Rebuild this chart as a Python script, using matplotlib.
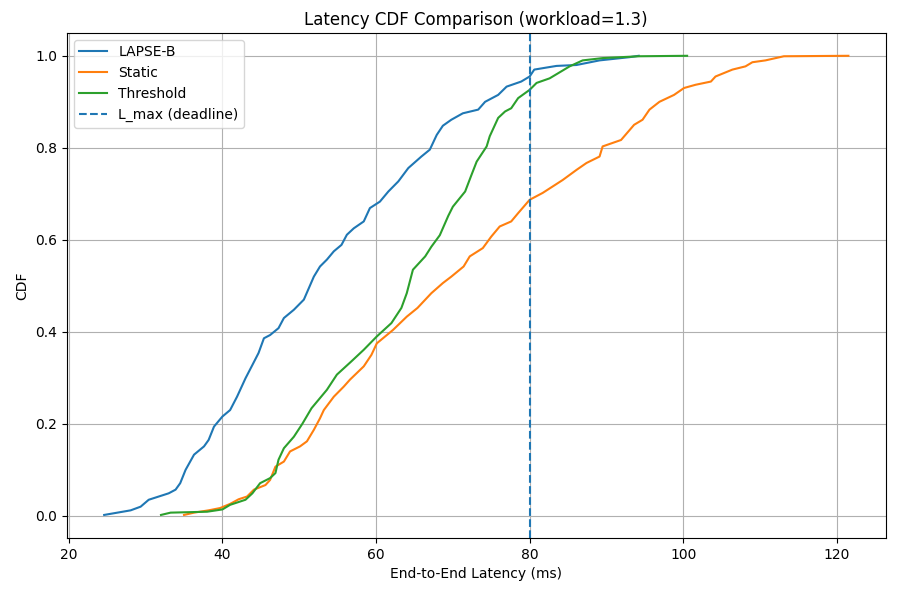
import matplotlib
matplotlib.use("Agg")
import matplotlib.pyplot as plt

# CDF curves (latency ms, cumulative fraction)
lapse_x = [24.6, 28.05, 29.35, 30.4, 33.0, 33.9, 34.5, 35.2, 36.3, 37.6, 38.2, 38.9,
           40.0, 41.0, 41.9, 43.0, 43.9, 44.7, 45.4, 46.2, 47.3, 48.0, 49.3, 50.6,
           51.9, 52.7, 53.6, 54.5, 55.5, 56.2, 57.1, 58.4, 59.2, 60.5, 61.6, 62.9,
           64.2, 65.9, 67.0, 67.9, 68.7, 69.8, 71.3, 73.3, 74.2, 75.9, 77.0, 78.9,
           80.0, 80.6, 82.4, 83.5, 86.1, 89.1, 93.0, 94.2]
lapse_y = [0.002, 0.012, 0.020, 0.035, 0.049, 0.057, 0.071, 0.10, 0.133, 0.151, 0.165, 0.194,
           0.216, 0.230, 0.259, 0.299, 0.328, 0.354, 0.386, 0.393, 0.408, 0.43, 0.448, 0.47,
           0.52, 0.542, 0.557, 0.575, 0.589, 0.611, 0.625, 0.64, 0.669, 0.683, 0.705, 0.727,
           0.756, 0.781, 0.796, 0.828, 0.848, 0.861, 0.875, 0.883, 0.90, 0.915, 0.933, 0.944,
           0.955, 0.97, 0.975, 0.978, 0.98, 0.99, 0.997, 1.0]

static_x = [35.0, 36.3, 38.2, 39.7, 41.0, 42.1, 43.2, 44.1, 45.6, 46.2, 46.9, 48.0,
            48.8, 50.1, 51.0, 51.9, 52.7, 53.2, 54.5, 55.8, 56.6, 58.4, 59.4, 60.1,
            62.2, 64.0, 65.4, 67.2, 68.7, 69.8, 71.4, 72.2, 73.9, 75.0, 76.1, 77.6,
            78.5, 80.0, 81.7, 83.0, 84.3, 86.1, 87.4, 89.1, 89.5, 91.9, 93.6, 94.7,
            95.6, 96.9, 98.8, 100.1, 101.6, 103.6, 104.2, 106.4, 108.1, 109.0, 110.7,
            113.1, 121.5]
static_y = [0.002, 0.007, 0.012, 0.017, 0.026, 0.036, 0.042, 0.057, 0.067, 0.078, 0.107, 0.118,
            0.14, 0.151, 0.162, 0.187, 0.212, 0.23, 0.259, 0.281, 0.296, 0.325, 0.35, 0.375,
            0.404, 0.433, 0.452, 0.484, 0.506, 0.52, 0.542, 0.564, 0.582, 0.607, 0.629, 0.64,
            0.658, 0.687, 0.702, 0.716, 0.73, 0.752, 0.767, 0.781, 0.803, 0.817, 0.85, 0.861,
            0.883, 0.90, 0.915, 0.93, 0.937, 0.944, 0.955, 0.97, 0.977, 0.986, 0.99,
            0.999, 1.0]

thresh_x = [32.0, 33.25, 38.0, 40.0, 41.0, 43.0, 43.9, 44.9, 46.2, 46.9, 47.3, 48.0,
            49.3, 50.4, 51.6, 53.6, 54.9, 56.8, 58.4, 60.1, 62.0, 63.3, 64.0, 64.8,
            66.4, 67.2, 68.3, 69.4, 70.0, 71.6, 72.4, 73.1, 74.4, 74.8, 75.9, 76.8,
            77.6, 78.5, 80.0, 80.9, 82.6, 83.7, 85.2, 86.9, 89.5, 94.3, 100.5]
thresh_y = [0.002, 0.007, 0.009, 0.014, 0.024, 0.035, 0.049, 0.071, 0.082, 0.093, 0.122, 0.147,
            0.172, 0.20, 0.234, 0.274, 0.307, 0.336, 0.361, 0.39, 0.419, 0.452, 0.484, 0.535,
            0.564, 0.585, 0.61, 0.652, 0.672, 0.705, 0.74, 0.77, 0.803, 0.825, 0.865, 0.879,
            0.886, 0.908, 0.926, 0.941, 0.951, 0.962, 0.977, 0.99, 0.995, 0.999, 1.0]

L_max = 80

fig = plt.figure(figsize=(9, 5.97), dpi=100)
plt.subplots_adjust(left=0.0744, right=0.984, top=0.945, bottom=0.099)

plt.plot(lapse_x, lapse_y, label="LAPSE-B")
plt.plot(static_x, static_y, label="Static")
plt.plot(thresh_x, thresh_y, label="Threshold")
plt.axvline(L_max, linestyle="--", label="L_max (deadline)")

plt.xlabel("End-to-End Latency (ms)")
plt.ylabel("CDF")
plt.title("Latency CDF Comparison (workload=1.3)")
plt.legend(loc="upper left")
plt.grid(True)

plt.savefig("out.png", dpi=100)
